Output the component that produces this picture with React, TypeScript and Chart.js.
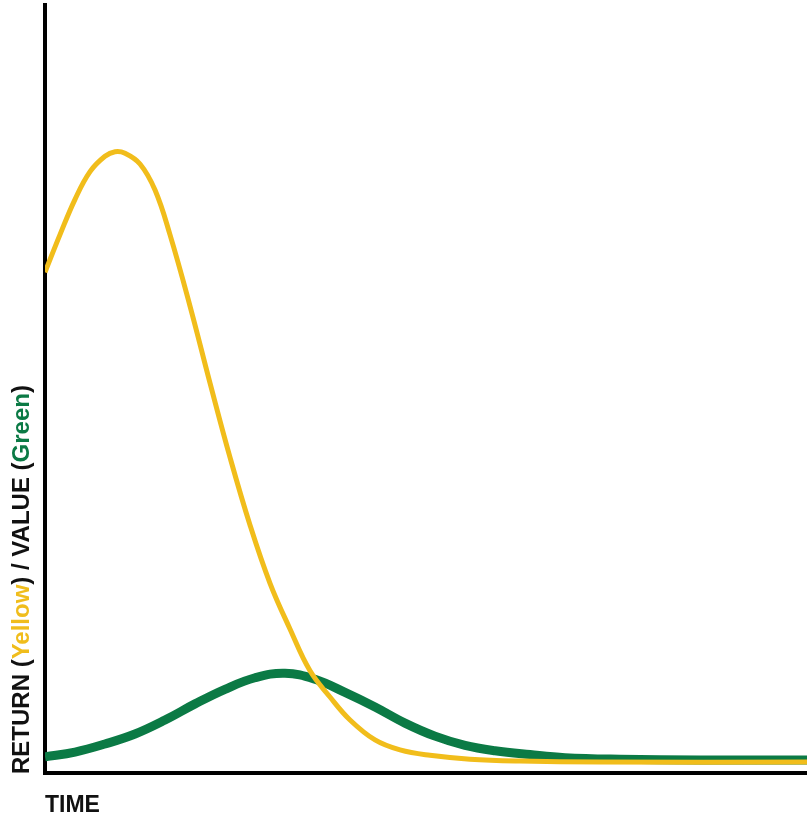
import React, { useEffect, useRef } from "react";
import { Chart, registerables } from "chart.js";

Chart.register(...registerables);

// Time axis positions (0..100) and curve values (0..100)
const returnTime = [0, 1.97, 3.94, 5.91, 7.87, 9.19, 10.5, 12.47, 14.44, 16.4, 19.03, 21.65, 24.28, 26.9, 29.53, 32.15, 34.78, 37.4, 40.03, 43.31, 46.59, 50.52, 55.77, 62.34, 72.83, 100];
const returnValues = [65.2, 70.1, 74.7, 78.3, 80.3, 80.9, 80.7, 79.3, 75.9, 70.1, 60.8, 50.8, 41.1, 32.3, 24.7, 18.75, 13.3, 9.9, 6.9, 4.3, 3.0, 2.3, 1.8, 1.56, 1.43, 1.43];

const valueTime = [0, 3.94, 7.87, 11.81, 15.75, 19.69, 23.62, 27.56, 31.5, 35.43, 39.37, 43.31, 47.24, 51.18, 55.12, 59.06, 63.65, 68.24, 75.46, 85.96, 100];
const valueValues = [2.1, 2.73, 3.78, 5.08, 6.9, 9.0, 10.9, 12.4, 13.0, 12.2, 10.5, 8.6, 6.5, 4.8, 3.6, 2.9, 2.4, 2.0, 1.8, 1.7, 1.7];

const xTitle = "TIME";
const yTitleParts = [
  { text: "RETURN (", color: "#111111" },
  { text: "Yellow", color: "#F0BD1C" },
  { text: ") / VALUE (", color: "#111111" },
  { text: "Green", color: "#0B7A45" },
  { text: ")", color: "#111111" },
];

const YELLOW = "#F1BD1B";
const GREEN = "#0B7A45";

const yTitlePlugin = {
  id: "yTitlePlugin",
  afterDraw(chart: any) {
    const ctx = chart.ctx as CanvasRenderingContext2D;
    ctx.save();
    ctx.font = "bold 24px 'Liberation Sans', Arial, sans-serif";
    ctx.textBaseline = "alphabetic";
    ctx.textAlign = "left";
    ctx.translate(28.5, 774);
    ctx.rotate(-Math.PI / 2);
    let x = 0;
    for (const p of yTitleParts) {
      ctx.fillStyle = p.color;
      ctx.fillText(p.text, x, 0);
      x += ctx.measureText(p.text).width;
    }
    ctx.restore();
  },
};

export default function App() {
  const ref = useRef<HTMLCanvasElement | null>(null);

  useEffect(() => {
    if (!ref.current) return;
    const chart = new Chart(ref.current, {
      type: "line",
      data: {
        datasets: [
          {
            label: "Return",
            data: returnTime.map((t, i) => ({ x: t, y: returnValues[i] })),
            borderColor: YELLOW,
            borderWidth: 5,
            pointRadius: 0,
            fill: false,
            tension: 0.4,
          },
          {
            label: "Value",
            data: valueTime.map((t, i) => ({ x: t, y: valueValues[i] })),
            borderColor: GREEN,
            borderWidth: 9,
            pointRadius: 0,
            fill: false,
            tension: 0.4,
          },
        ],
      },
      options: {
        responsive: false,
        animation: false,
        layout: { padding: { left: 45, top: 5, right: 0, bottom: 0 } },
        plugins: {
          legend: { display: false },
          tooltip: { enabled: false },
        },
        scales: {
          x: {
            type: "linear",
            min: 0,
            max: 100,
            grid: { display: false, drawTicks: false },
            ticks: { display: false },
            border: { display: true, color: "#000000", width: 4 },
            title: {
              display: true,
              text: xTitle,
              align: "start",
              color: "#111111",
              font: { family: "'Liberation Sans', Arial, sans-serif", size: 23, weight: "bold", lineHeight: 1 },
              padding: { top: 21, bottom: -2 },
            },
          },
          y: {
            type: "linear",
            min: 0,
            max: 100,
            grid: { display: false, drawTicks: false },
            ticks: { display: false },
            border: { display: true, color: "#000000", width: 4 },
          },
        },
      },
      plugins: [yTitlePlugin],
    } as any);
    return () => chart.destroy();
  }, []);

  return (
    <div style={{ position: "absolute", left: 0, top: 0, width: 807, height: 815, background: "#ffffff" }}>
      <canvas ref={ref} width={807} height={815} style={{ width: 807, height: 815, display: "block" }} />
    </div>
  );
}
